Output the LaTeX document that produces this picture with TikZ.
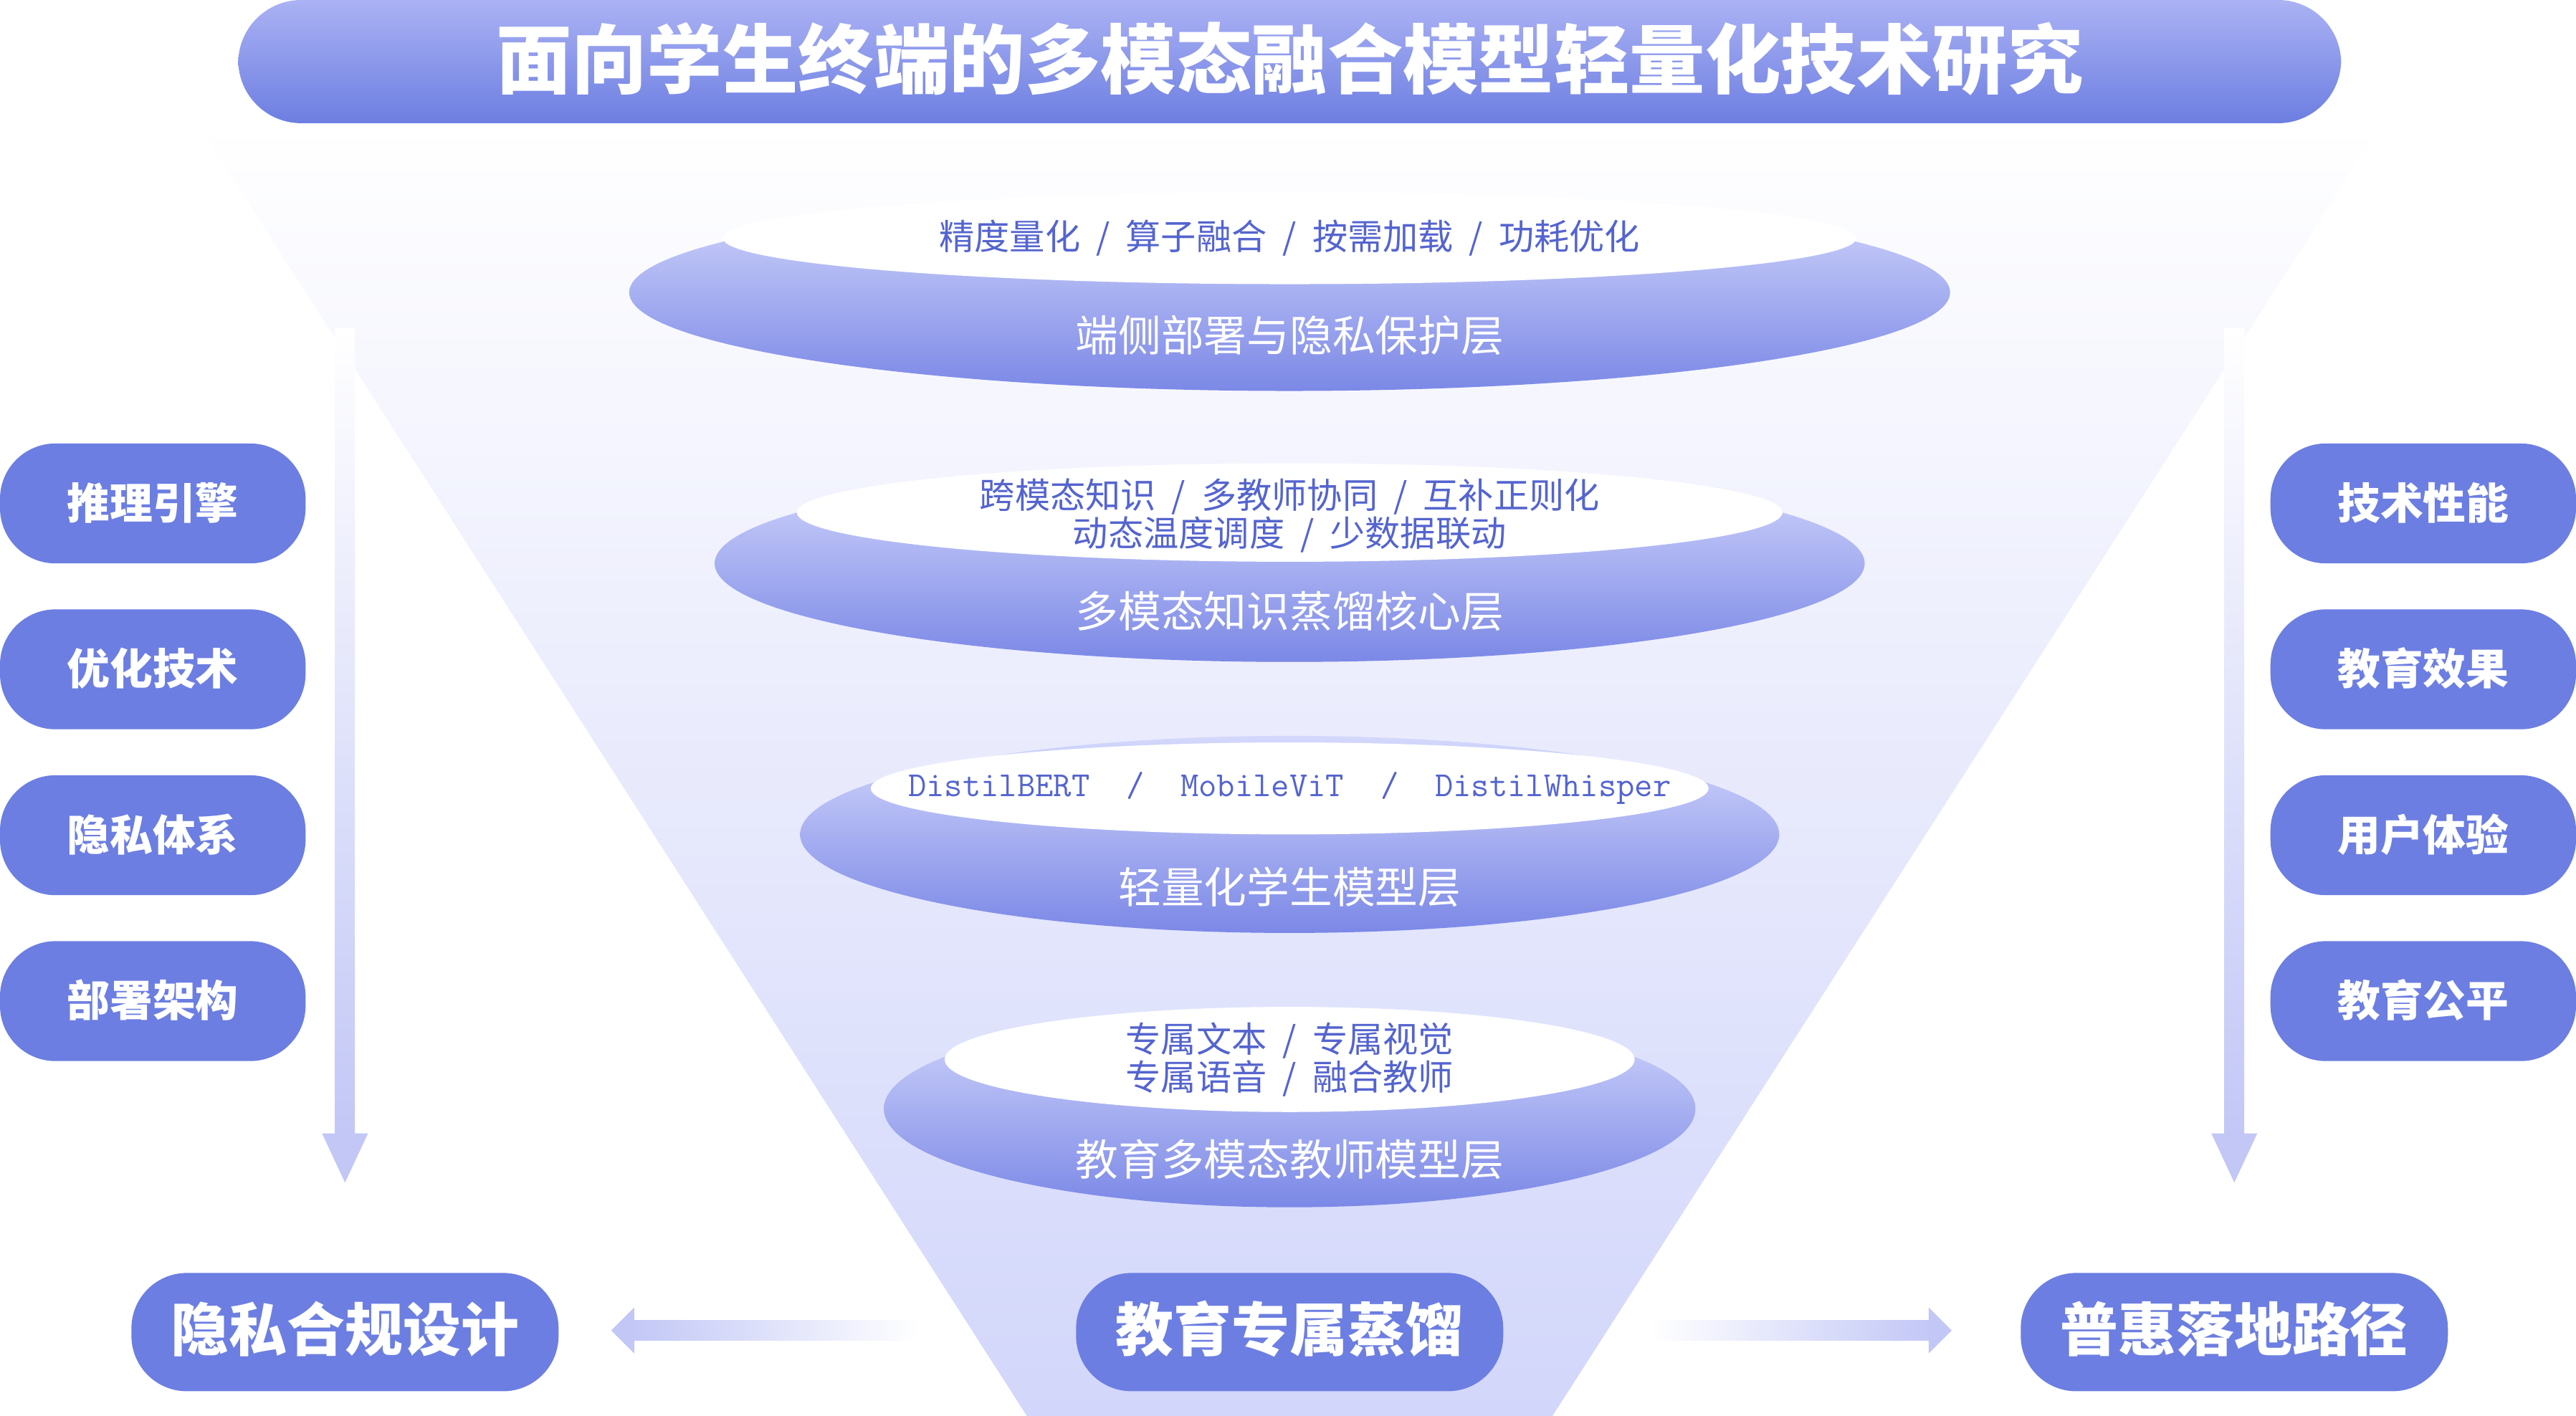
\documentclass[tikz,border=0pt]{standalone}
\usepackage{fontspec}
\setmainfont{Noto Sans CJK SC}
\newfontfamily\cjk{Noto Sans CJK SC}
\begin{document}
\begin{tikzpicture}[x=0.02292cm,y=-0.02292cm,
 pill/.style={rounded corners=22pt,fill=pillc,draw=none},
 ptext/.style={text=white,font=\cjk\bfseries\fontsize{17}{19}\selectfont},
 btext/.style={text=white,font=\cjk\bfseries\fontsize{23}{26}\selectfont},
 itext/.style={text=innerc,font=\cjk\fontsize{14}{16}\selectfont,align=center},
 ltext/.style={text=white,font=\cjk\fontsize{17}{19}\selectfont}]
\definecolor{pillc}{HTML}{6C7EE1}
\definecolor{innerc}{HTML}{5464CF}
\definecolor{elltop}{HTML}{D4D8FC}
\definecolor{ellbot}{HTML}{7B88E6}
\definecolor{funb}{HTML}{D2D6FA}
\definecolor{arrc}{HTML}{C2C7F6}
\definecolor{tit}{HTML}{ABB2F4}
\useasboundingbox (0,0) rectangle (1568,862);
% funnel
\shade[top color=white,bottom color=funb] (120,75) -- (1450,75) -- (945,862) -- (625,862) -- cycle;
% title
\shade[rounded corners=25pt,top color=tit,bottom color=pillc] (145,0) rectangle (1425,75);
\node[text=white,font=\cjk\bfseries\fontsize{30}{32}\selectfont] (title) at (785,36) {面向学生终端的多模态融合模型轻量化技术研究};
% layers
\foreach \cy/\rx/\iy/\irx/\iry/\ly/\n in {178/402/145/345/28/204/a,343/350/312/300/30/372/b,508/298/480/255/28/540/c,675/247/645/210/32/706/d}{
 \shade[top color=elltop,bottom color=ellbot] (785,\cy) ellipse [x radius=\rx,y radius=60];
 \fill[white] (785,\iy) ellipse [x radius=\irx,y radius=\iry];
 \coordinate (in\n) at (785,\iy);
 \coordinate (lb\n) at (785,\ly);
}
\node[itext] (t1) at (ina) {精度量化 \ / \ 算子融合 \ / \ 按需加载 \ / \ 功耗优化};
\node[ltext] (l1) at (lba) {端侧部署与隐私保护层};
\node[itext,inner sep=0pt] (t2) at (785,314) {跨模态知识 \ / \ 多教师协同 \ / \ 互补正则化\\[-1pt]动态温度调度 \ / \ 少数据联动};
\node[ltext] (l2) at (lbb) {多模态知识蒸馏核心层};
\node[itext,font=\ttfamily\fontsize{14}{16}\selectfont] (t3) at (inc) {DistilBERT \ / \ MobileViT \ / \ DistilWhisper};
\node[ltext] (l3) at (lbc) {轻量化学生模型层};
\node[itext,inner sep=0pt] (t4) at (785,645) {专属文本 \ / \ 专属视觉\\[-1pt]专属语音 \ / \ 融合教师};
\node[ltext] (l4) at (lbd) {教育多模态教师模型层};
% side arrows
\shade[top color=white,bottom color=arrc] (204,200) rectangle (216,692);
\fill[arrc] (196,690) -- (224,690) -- (210,720) -- cycle;
\shade[top color=white,bottom color=arrc] (1354,200) rectangle (1366,692);
\fill[arrc] (1346,690) -- (1374,690) -- (1360,720) -- cycle;
% pills
\foreach \y/\tl/\tr [count=\i] in {270/推理引擎/技术性能,371/优化技术/教育效果,472/隐私体系/用户体验,573/部署架构/教育公平}{
 \fill[pill] (0,\y) rectangle (186,\y+73);
 \node[ptext] (pl\i) at (93,\y+36) {\tl};
 \fill[pill] (1382,\y) rectangle (1568,\y+73);
 \node[ptext] (pr\i) at (1475,\y+36) {\tr};
}
% bottom boxes
\fill[pill] (80,775) rectangle (340,847);
\node[btext] (b1) at (210,809) {隐私合规设计};
\fill[pill] (655,775) rectangle (915,847);
\node[btext] (b2) at (785,809) {教育专属蒸馏};
\fill[pill] (1230,775) rectangle (1490,847);
\node[btext] (b3) at (1360,809) {普惠落地路径};
% horizontal arrows
\shade[left color=arrc,right color=white] (384,804) rectangle (560,816);
\fill[arrc] (386,796) -- (386,824) -- (372,810) -- cycle;
\shade[left color=white,right color=arrc] (1005,804) rectangle (1176,816);
\fill[arrc] (1174,796) -- (1174,824) -- (1188,810) -- cycle;
\end{tikzpicture}
\end{document}
